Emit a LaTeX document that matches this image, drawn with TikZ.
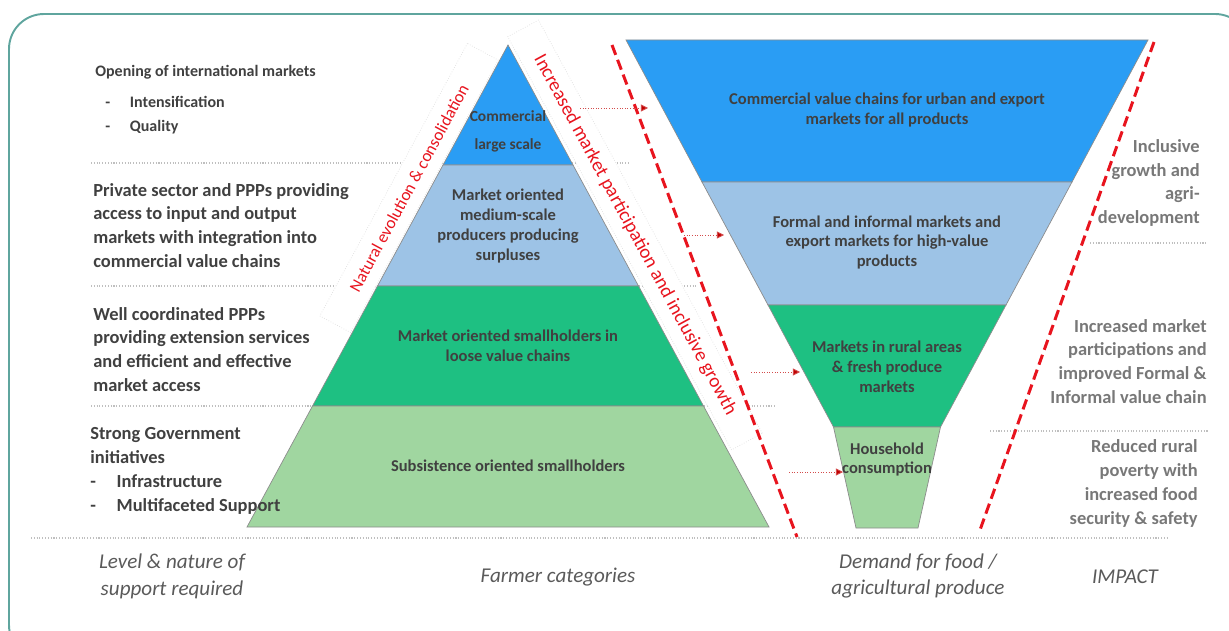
\documentclass[tikz,border=0pt]{standalone}
\usepackage{fontspec}
\setmainfont{Carlito}
\usetikzlibrary{arrows.meta}
\definecolor{layerblue}{RGB}{42,157,244}
\definecolor{layerlightblue}{RGB}{157,195,230}
\definecolor{layergreen}{RGB}{30,192,130}
\definecolor{layerlightgreen}{RGB}{160,214,160}
\definecolor{trendred}{RGB}{232,20,30}
\definecolor{arrowred}{RGB}{192,0,0}
\definecolor{frameteal}{RGB}{95,165,158}
\definecolor{textgrey}{RGB}{64,64,64}
\definecolor{impactgrey}{RGB}{120,120,120}
\definecolor{captiongrey}{RGB}{90,90,90}
\tikzset{
    layer/.style={draw=black!45, line width=0.4pt},
    separator/.style={draw=black!25, densely dotted, line width=0.6pt},
    trend/.style={draw=trendred, line width=1.7pt, dash pattern=on 6pt off 3pt},
    feed/.style={draw=arrowred!70, densely dotted, line width=0.5pt,
        -{Triangle[length=4pt,width=4pt,fill=arrowred]}},
    banner/.style={fill=white, draw=black!12, densely dotted, text=trendred,
        inner sep=0pt, minimum height=0.7cm},
    support/.style={anchor=west, align=left, text=textgrey, inner sep=0pt,
        font=\bfseries\fontsize{10.5}{13.6}\selectfont},
    impact/.style={anchor=east, align=right, text=impactgrey, inner sep=0pt,
        font=\bfseries\fontsize{10.5}{13.6}\selectfont},
    tier/.style={align=center, text=textgrey, inner sep=0pt,
        font=\bfseries\fontsize{9.4}{11.3}\selectfont},
    caption/.style={align=center, text=captiongrey, inner sep=0pt,
        font=\itshape\fontsize{12}{15.3}\selectfont}
}
\begin{document}
\begin{tikzpicture}[x=0.02cm, y=-0.02cm]
    \useasboundingbox (0,0) rectangle (1229,631);
    \clip (0,0) rectangle (1229,631);
    \draw[frameteal, line width=1.1pt, rounded corners=0.7cm] (9,14) rectangle (1250,660);

    \foreach \y/\xa/\xb in {163/91/630, 286/91/698, 406/91/775, 243/1090/1208, 431/990/1208, 538/31/1168}
        \draw[separator] (\xa,\y) -- (\xb,\y);

    \foreach \ya/\yb/\col in {45/165/layerblue, 165/286/layerlightblue, 286/406/layergreen, 406/527/layerlightgreen}
        \filldraw[layer, fill=\col] ({508-0.5415*(\ya-45)},\ya) -- ({508+0.5415*(\ya-45)},\ya)
            -- ({508+0.5415*(\yb-45)},\yb) -- ({508-0.5415*(\yb-45)},\yb) -- cycle;

    \foreach \ya/\wa/\yb/\wb/\col in {40/261/182/185/layerblue, 182/185/305/119/layerlightblue, 305/119/427/53.5/layergreen, 427/53.5/528/31/layerlightgreen}
        \filldraw[layer, fill=\col] ({887-\wa},\ya) -- ({887+\wa},\ya) -- ({887+\wb},\yb) -- ({887-\wb},\yb) -- cycle;

    \node[banner, rotate=61.56, minimum width=6.2cm, font=\fontsize{9.7}{11}\selectfont] (evolution) at (409,188) {Natural evolution \& consolidation};
    \node[banner, rotate=-61.56, minimum width=9.4cm, font=\fontsize{11}{12}\selectfont] (participation) at (635,235) {Increased market participation and inclusive growth};

    \draw[trend] (612,45) -- (797,537);
    \draw[trend] (1154,42) -- (980,530);

    \foreach \i/\xa/\xb/\y in {1/580/648/108, 2/684/724/235, 3/751/800/372, 4/789/843/472} {
        \coordinate (feed\i s) at (\xa,\y);
        \coordinate (feed\i e) at (\xb,\y);
        \draw[feed] (feed\i s) -- (feed\i e);
    }

    \node[support, font=\bfseries\fontsize{9.1}{13.6}\selectfont] (opening) at (95,72) {Opening of international markets};
    \node[support, font=\bfseries\fontsize{9.1}{13.6}\selectfont] (openinglist) at (105,115) {\makebox[14pt][l]{-}Intensification\\\makebox[14pt][l]{-}Quality};
    \node[support] (private) at (93,225.5) {Private sector and PPPs providing\\access to input and output\\markets with integration into\\commercial value chains};
    \node[support] (coordinated) at (93,349.5) {Well coordinated PPPs\\providing extension services\\and efficient and effective\\market access};
    \node[support] (government) at (90,471) {Strong Government\\initiatives\\\makebox[15pt][l]{-}Infrastructure\\\makebox[15pt][l]{-}Multifaceted Support};

    \node[tier, font=\bfseries\fontsize{8.8}{15.9}\selectfont] (commercial) at (508,131) {Commercial\\large scale};
    \node[tier] (medium) at (508,226) {Market oriented\\medium-scale\\producers producing\\surpluses};
    \node[tier] (smallholders) at (508,346) {Market oriented smallholders in\\loose value chains};
    \node[tier] (subsistence) at (508,466) {Subsistence oriented smallholders};

    \node[tier] (urban) at (887,110) {Commercial value chains for urban and export\\markets for all products};
    \node[tier] (formal) at (887,242.5) {Formal and informal markets and\\export markets for high-value\\products};
    \node[tier] (rural) at (887,366.5) {Markets in rural areas\\\& fresh produce\\markets};
    \node[tier] (household) at (887,459.5) {Household\\consumption};

    \node[impact] (inclusive) at (1200,183) {Inclusive\\growth and\\agri-\\development};
    \node[impact] (increased) at (1207,361.5) {Increased market\\participations and\\improved Formal \&\\Informal value chain};
    \node[impact] (reduced) at (1198,483.5) {Reduced rural\\poverty with\\increased food\\security \& safety};

    \node[caption] (levelcap) at (172,576) {Level \& nature of\\support required};
    \node[caption] (farmercap) at (558,577) {Farmer categories};
    \node[caption] (demandcap) at (918,576) {Demand for food /\\agricultural produce};
    \node[caption] (impactcap) at (1125,577) {IMPACT};
\end{tikzpicture}
\end{document}
